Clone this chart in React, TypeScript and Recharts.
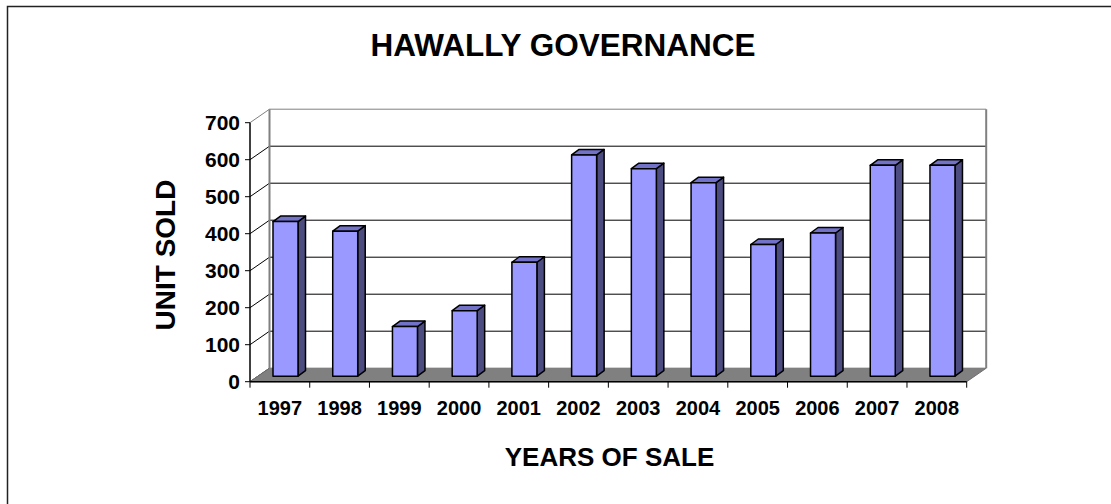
import { BarChart, Bar, XAxis, YAxis, CartesianGrid, Customized } from "recharts";

const years = ["1997", "1998", "1999", "2000", "2001", "2002", "2003", "2004", "2005", "2006", "2007", "2008"];
const unitsSold = [418, 392, 134, 177, 308, 598, 561, 523, 356, 387, 570, 570];
const yTicks = [0, 100, 200, 300, 400, 500, 600, 700];

const data = years.map((year, i) => ({ year, units: unitsSold[i] }));

const FONT = '"Liberation Sans", Arial, sans-serif';

// plot area (front plane)
const LEFT = 250;
const TOP = 122.7;
const PW = 716.7;
const PH = 259;
const BOTTOM = TOP + PH;
const BAND = PW / years.length;

// depth offsets: back wall, bar front face, bar thickness
const DX = 19.5;
const DY = -13.5;
const BX = 6;
const BY = -5.5;
const SX = 7.5;
const SY = -5.5;

const Bar3D = (props: any) => {
  const { x, y, width, height } = props;
  if (height == null || height <= 0) return null;
  const fx = x + BX;
  const fy = y + BY;
  return (
    <g stroke="#000" strokeWidth={1.5} strokeLinejoin="round">
      <polygon
        points={`${fx + width},${fy} ${fx + width + SX},${fy + SY} ${fx + width + SX},${fy + height + SY} ${fx + width},${fy + height}`}
        fill="#4C4C80"
      />
      <polygon
        points={`${fx},${fy} ${fx + SX},${fy + SY} ${fx + width + SX},${fy + SY} ${fx + width},${fy}`}
        fill="#7272C8"
      />
      <rect x={fx} y={fy} width={width} height={height} fill="#9999FF" />
    </g>
  );
};

const gridLine = (props: any) => {
  const { x1, x2, y1 } = props;
  const isTop = Math.abs(y1 - TOP) < 1;
  const isBottom = Math.abs(y1 - BOTTOM) < 1;
  const col = isTop ? "#808080" : "#000";
  return (
    <g key={`g-${y1}`}>
      <line x1={x1} y1={y1} x2={x1 + DX} y2={y1 + DY} stroke={col} strokeWidth={1} />
      {!isBottom && (
        <line x1={x1 + DX} y1={y1 + DY} x2={x2 + DX} y2={y1 + DY} stroke={col} strokeWidth={1} />
      )}
    </g>
  );
};

const Walls = () => (
  <g>
    <rect x={7.5} y={6.5} width={1200} height={600} fill="none" stroke="#222" strokeWidth={1.5} />
    <polygon
      points={`${LEFT},${BOTTOM} ${LEFT + PW},${BOTTOM} ${LEFT + PW + DX},${BOTTOM + DY} ${LEFT + DX},${BOTTOM + DY}`}
      fill="#808080"
      stroke="#707070"
      strokeWidth={1}
    />
    <line x1={LEFT + DX} y1={TOP + DY} x2={LEFT + DX} y2={BOTTOM + DY} stroke="#808080" strokeWidth={2} />
    <line x1={LEFT + PW + DX} y1={TOP + DY} x2={LEFT + PW + DX} y2={BOTTOM + DY} stroke="#808080" strokeWidth={2} />
    <text x={563} y={56} textAnchor="middle" fontFamily={FONT} fontWeight="bold" fontSize={31.5} fill="#000">
      HAWALLY GOVERNANCE
    </text>
    <text x={609.5} y={466} textAnchor="middle" fontFamily={FONT} fontWeight="bold" fontSize={26} fill="#000">
      YEARS OF SALE
    </text>
    <text
      x={175}
      y={255}
      textAnchor="middle"
      transform="rotate(-90, 175, 255)"
      fontFamily={FONT}
      fontWeight="bold"
      fontSize={28}
      fill="#000"
    >
      UNIT SOLD
    </text>
  </g>
);

const YearTick = (props: any) => {
  const { x, y, payload, index } = props;
  const last = index === years.length - 1;
  return (
    <g>
      <line x1={x - BAND / 2} y1={y} x2={x - BAND / 2} y2={y + 6} stroke="#000" />
      {last && <line x1={x + BAND / 2} y1={y} x2={x + BAND / 2} y2={y + 6} stroke="#000" />}
      <text x={x} y={y + 33} textAnchor="middle" fontFamily={FONT} fontWeight="bold" fontSize={20} fill="#000">
        {payload.value}
      </text>
    </g>
  );
};

export default function App() {
  return (
    <div style={{ position: "absolute", left: 0, top: 0, width: 1111, height: 504, background: "#fff" }}>
      <BarChart
        width={1111}
        height={504}
        data={data}
        margin={{ top: TOP, right: 1111 - LEFT - PW, left: LEFT - 60, bottom: 504 - BOTTOM - 30 }}
        barSize={25}
      >
        <Customized component={Walls} />
        <CartesianGrid vertical={false} horizontal={gridLine} />
        <XAxis
          dataKey="year"
          height={30}
          tickSize={0}
          tickMargin={0}
          tickLine={false}
          axisLine={{ stroke: "#000", strokeWidth: 1.5 }}
          tick={<YearTick />}
          interval={0}
        />
        <YAxis
          width={60}
          domain={[0, 700]}
          ticks={yTicks}
          interval={0}
          tickSize={5}
          tickMargin={5}
          axisLine={{ stroke: "#000", strokeWidth: 1.5 }}
          tickLine={{ stroke: "#000" }}
          tick={{ fontFamily: FONT, fontWeight: "bold", fontSize: 21, fill: "#000" }}
        />
        <Bar dataKey="units" shape={<Bar3D />} isAnimationActive={false} />
      </BarChart>
    </div>
  );
}
